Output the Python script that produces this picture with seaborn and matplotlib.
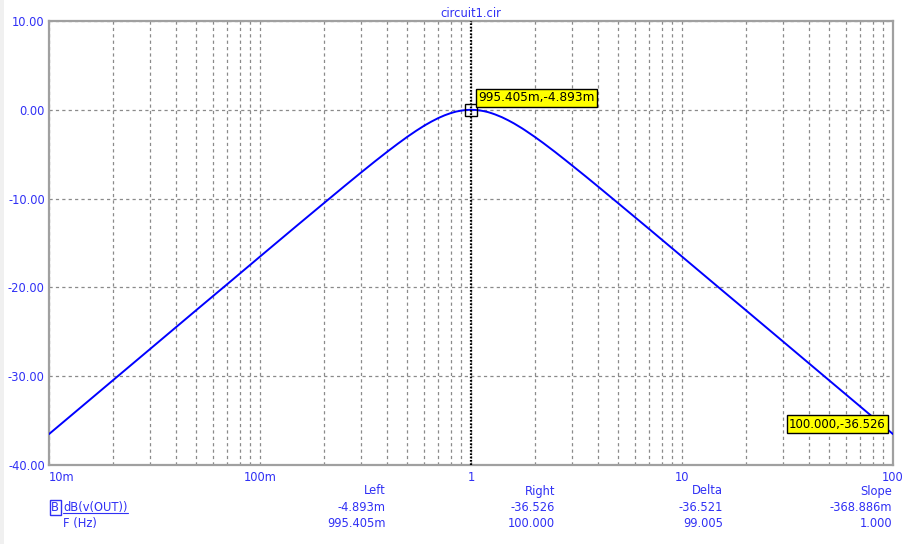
import numpy as np
import pandas as pd
import matplotlib
matplotlib.use("Agg")
import matplotlib.pyplot as plt
from matplotlib.patches import Rectangle
import seaborn as sns

# ---- data ----
freq_hz = [0.01, 0.015, 0.02, 0.03, 0.05, 0.07, 0.1, 0.15, 0.2, 0.25, 0.3, 0.35,
           0.4, 0.45, 0.5, 0.55, 0.6, 0.65, 0.7, 0.75, 0.8, 0.85, 0.9, 0.95, 1.0,
           1.05, 1.1, 1.15, 1.2, 1.25, 1.3, 1.4, 1.5, 1.6, 1.75, 1.8, 2.0, 2.2,
           2.5, 2.8, 3.0, 3.5, 4.0, 5.0, 7.0, 10.0,
           15.0, 20.0, 30.0, 50.0, 70.0, 100.0]
gain_db = [-36.52, -33.00, -30.50, -26.98, -22.54, -19.63, -16.53, -13.02, -10.55,
           -8.64, -7.10, -5.82, -4.74, -3.82, -3.03, -2.36, -1.79, -1.32, -0.93,
           -0.62, -0.38, -0.20, -0.09, -0.02, 0.00,
           -0.02, -0.07, -0.15, -0.25, -0.38, -0.52, -0.83, -1.18, -1.54, -2.10,
           -2.29, -3.03, -3.74, -4.74, -5.66, -6.23, -7.51, -8.64,
           -10.55, -13.44, -16.53, -20.05, -22.54, -26.06, -30.50, -33.42, -36.52]

x_tick_values = [0.01, 0.1, 1, 10, 100]
x_tick_labels = ["10m", "100m", "1", "10", "100"]
y_tick_values = [-40, -30, -20, -10, 0, 10]

left_cursor = (0.995405, -0.004893)
right_cursor = (100.0, -36.526)
left_label = "995.405m,-4.893m"
right_label = "100.000,-36.526"

table_headers = ["Left", "Right", "Delta", "Slope"]
table_row1 = ["-4.893m", "-36.526", "-36.521", "-368.886m"]
table_row2 = ["995.405m", "100.000", "99.005", "1.000"]
row1_name = "dB(v(OUT))"
row2_name = "F (Hz)"
title_text = "circuit1.cir"

# ---- style ----
sns.set_style("white")
plt.rcParams["font.family"] = ["DejaVu Sans"]
plt.rcParams["lines.scale_dashes"] = False

FS = 8.3
BLUE_TXT = "#3030f5"
W, H = 919, 544
fig = plt.figure(figsize=(W / 100, H / 100), dpi=100)
fig.patch.set_facecolor("white")
fig.patches.append(Rectangle((0, 0), 4 / W, 1, transform=fig.transFigure,
                             facecolor="#f0f0f0", edgecolor="none", zorder=0))

ax = fig.add_axes([49 / W, 1 - 465 / H, (893 - 49) / W, (465 - 21) / H])

df = pd.DataFrame({"F": freq_hz, "dB": gain_db})
sns.lineplot(data=df, x="F", y="dB", ax=ax, color="#0000ff", linewidth=1.4,
             estimator=None, sort=True, zorder=3)

ax.set_xscale("log")
ax.set_xlim(0.01, 100)
ax.set_ylim(-40, 10)
ax.set_xticks(x_tick_values)
ax.set_xticklabels(x_tick_labels)
ax.xaxis.set_minor_locator(matplotlib.ticker.LogLocator(base=10, subs=np.arange(2, 10)))
ax.xaxis.set_minor_formatter(matplotlib.ticker.NullFormatter())
ax.set_yticks(y_tick_values)
ax.set_yticklabels([f"{v:.2f}" for v in y_tick_values])
ax.set_xlabel("")
ax.set_ylabel("")

ax.tick_params(axis="both", which="both", length=0, labelsize=FS, labelcolor=BLUE_TXT)
ax.tick_params(axis="x", pad=4)
ax.tick_params(axis="y", pad=3)
for lbl in ax.get_xticklabels():
    if lbl.get_text() == "10m":
        lbl.set_horizontalalignment("left")

grid_kw = dict(color="#8a8a8a", linewidth=0.9, linestyle=(0, (2.3, 2.3)))
ax.grid(True, which="major", axis="both", **grid_kw)
ax.grid(True, which="minor", axis="x", **grid_kw)
ax.set_axisbelow(True)

for sp in ax.spines.values():
    sp.set_color("#a0a0a0")
    sp.set_linewidth(1.6)

ax.set_title(title_text, color=BLUE_TXT, fontsize=FS, pad=3)

# cursor line
ax.axvline(left_cursor[0], color="black", linewidth=1.6, linestyle=(0, (1.2, 1.2)), zorder=4)

# cursor marker and labels
ax.plot([left_cursor[0]], [left_cursor[1]], marker="s", markersize=9,
        markerfacecolor="none", markeredgecolor="black", markeredgewidth=1.0, zorder=5)
box = dict(boxstyle="square,pad=0.2", facecolor="#ffff00", edgecolor="black", linewidth=1.0)
ax.annotate(left_label, xy=left_cursor, xytext=(5.3, 4.0), textcoords="offset points",
            ha="left", va="bottom", fontsize=8.7, color="black", bbox=box, zorder=6)
ax.annotate(right_label, xy=right_cursor, xytext=(-5.2, 2.4), textcoords="offset points",
            ha="right", va="bottom", fontsize=8.4, color="black", bbox=box, zorder=6,
            annotation_clip=False)

# ---- cursor table below the plot ----
def fx(px):
    return px / W

def fy(py):
    return 1 - py / H

col_right = [386, 555, 723, 892]
for xr, hdr, v1, v2 in zip(col_right, table_headers, table_row1, table_row2):
    fig.text(fx(xr), fy(491), hdr, ha="right", va="center", fontsize=FS, color=BLUE_TXT)
    fig.text(fx(xr), fy(507.5), v1, ha="right", va="center", fontsize=FS, color=BLUE_TXT)
    fig.text(fx(xr), fy(523.5), v2, ha="right", va="center", fontsize=FS, color=BLUE_TXT)

fig.text(fx(55.3), fy(507.5), "B", ha="center", va="center", fontsize=FS, color=BLUE_TXT,
         bbox=dict(boxstyle="square,pad=0.12", facecolor="white", edgecolor=BLUE_TXT, linewidth=1.0))
fig.text(fx(63), fy(507.5), row1_name, ha="left", va="center", fontsize=FS, color=BLUE_TXT)
fig.lines.append(plt.Line2D([fx(63), fx(128)], [fy(512.5), fy(512.5)],
                            transform=fig.transFigure, color=BLUE_TXT, linewidth=0.8))
fig.text(fx(63), fy(523.5), row2_name, ha="left", va="center", fontsize=FS, color=BLUE_TXT)

fig.savefig("out.png", dpi=100, facecolor="white")
